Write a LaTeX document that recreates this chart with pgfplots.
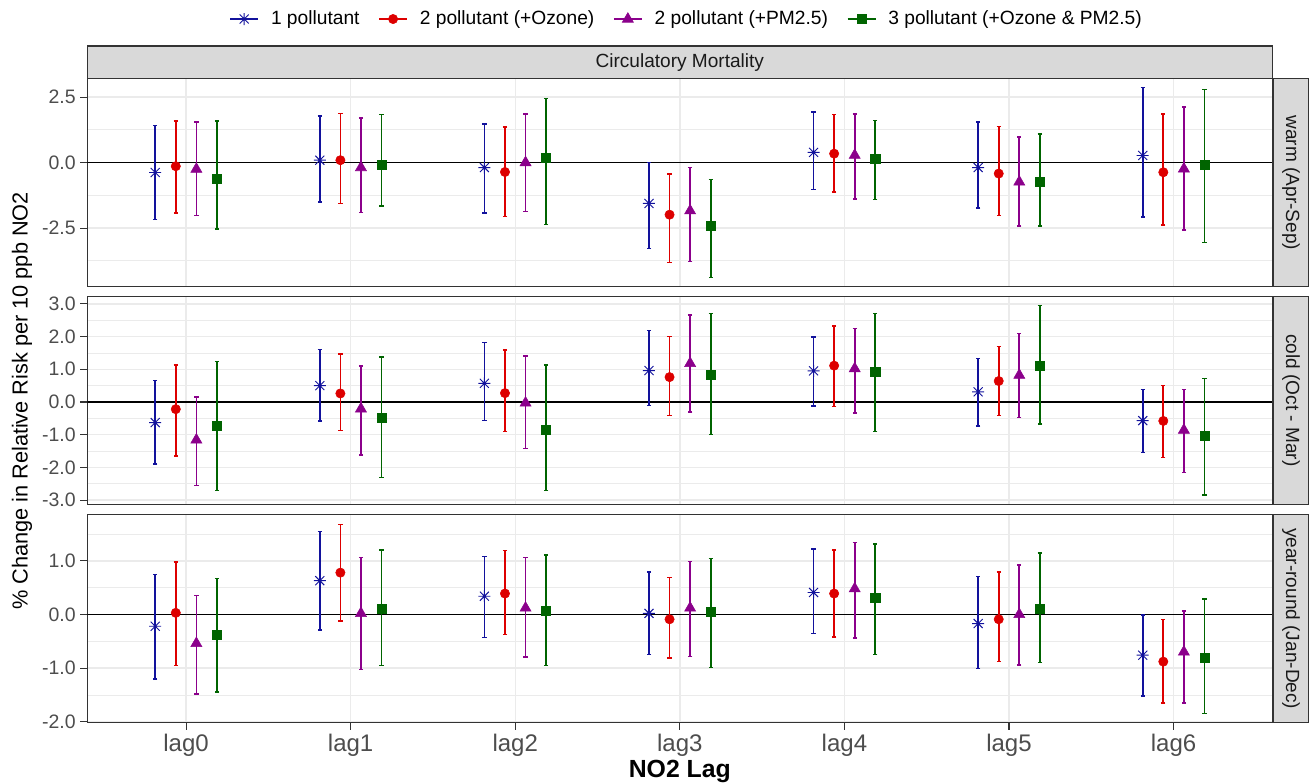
\documentclass[border=0pt]{standalone}
\usepackage{pgfplots}
\pgfplotsset{compat=1.18}
\usepackage{pgfplotstable}
\usepackage{fontspec}
\setmainfont{Liberation Sans}

\definecolor{cblue}{HTML}{12129C}
\definecolor{cred}{HTML}{DD0000}
\definecolor{cpurple}{HTML}{8B008B}
\definecolor{cgreen}{HTML}{006400}
\definecolor{grey92}{HTML}{EBEBEB}
\definecolor{grey85}{HTML}{D9D9D9}
\definecolor{grey20}{HTML}{333333}
\definecolor{grey30}{HTML}{4D4D4D}
\definecolor{grey10}{HTML}{1A1A1A}

\pgfdeclareplotmark{ast8}{%
  \pgfpathmoveto{\pgfqpoint{-\pgfplotmarksize}{0pt}}%
  \pgfpathlineto{\pgfqpoint{\pgfplotmarksize}{0pt}}%
  \pgfpathmoveto{\pgfqpoint{0pt}{-\pgfplotmarksize}}%
  \pgfpathlineto{\pgfqpoint{0pt}{\pgfplotmarksize}}%
  \pgfpathmoveto{\pgfqpoint{-0.75\pgfplotmarksize}{-0.75\pgfplotmarksize}}%
  \pgfpathlineto{\pgfqpoint{0.75\pgfplotmarksize}{0.75\pgfplotmarksize}}%
  \pgfpathmoveto{\pgfqpoint{-0.75\pgfplotmarksize}{0.75\pgfplotmarksize}}%
  \pgfpathlineto{\pgfqpoint{0.75\pgfplotmarksize}{-0.75\pgfplotmarksize}}%
  \pgfusepathqstroke
}

% lag, estimate, lower, upper for: b = 1 pollutant, r = +Ozone, p = +PM2.5, g = +Ozone & PM2.5
\pgfplotstableread{
lag b bl bh r rl rh p pl ph g gl gh
0 -0.38 -2.17 1.42 -0.14 -1.92 1.59 -0.25 -2.02 1.55 -0.61 -2.53 1.59
1 0.09 -1.51 1.77 0.09 -1.56 1.88 -0.19 -1.91 1.70 -0.10 -1.66 1.84
2 -0.19 -1.92 1.47 -0.36 -2.05 1.36 0.00 -1.86 1.86 0.17 -2.36 2.44
3 -1.56 -3.28 0.00 -1.99 -3.82 -0.43 -1.84 -3.77 -0.19 -2.43 -4.38 -0.64
4 0.39 -1.02 1.93 0.34 -1.13 1.84 0.28 -1.39 1.86 0.15 -1.42 1.60
5 -0.19 -1.73 1.55 -0.42 -2.03 1.37 -0.74 -2.43 0.98 -0.72 -2.43 1.09
6 0.27 -2.08 2.86 -0.37 -2.39 1.86 -0.24 -2.57 2.12 -0.09 -3.06 2.78
}\warm
\pgfplotstableread{
lag b bl bh r rl rh p pl ph g gl gh
0 -0.63 -1.89 0.65 -0.22 -1.65 1.13 -1.16 -2.56 0.15 -0.72 -2.70 1.23
1 0.50 -0.58 1.61 0.26 -0.87 1.46 -0.21 -1.62 1.10 -0.47 -2.31 1.38
2 0.57 -0.57 1.82 0.27 -0.90 1.59 -0.03 -1.43 1.40 -0.86 -2.71 1.13
3 0.96 -0.10 2.18 0.76 -0.42 2.00 1.18 -0.31 2.66 0.84 -0.99 2.71
4 0.95 -0.12 1.99 1.11 -0.14 2.32 1.02 -0.34 2.24 0.91 -0.90 2.70
5 0.31 -0.74 1.33 0.64 -0.42 1.70 0.82 -0.48 2.10 1.11 -0.67 2.95
6 -0.57 -1.55 0.38 -0.58 -1.69 0.50 -0.86 -2.16 0.38 -1.03 -2.85 0.72
}\cold
\pgfplotstableread{
lag b bl bh r rl rh p pl ph g gl gh
0 -0.22 -1.20 0.75 0.03 -0.95 0.98 -0.54 -1.48 0.35 -0.38 -1.45 0.67
1 0.63 -0.29 1.55 0.78 -0.12 1.68 0.02 -1.03 1.06 0.11 -0.95 1.20
2 0.34 -0.43 1.08 0.39 -0.37 1.19 0.12 -0.79 1.06 0.06 -0.95 1.11
3 0.02 -0.75 0.79 -0.09 -0.81 0.69 0.12 -0.78 0.99 0.05 -0.99 1.04
4 0.41 -0.36 1.22 0.39 -0.42 1.20 0.48 -0.44 1.34 0.31 -0.75 1.31
5 -0.17 -1.01 0.71 -0.09 -0.88 0.79 0.00 -0.94 0.92 0.11 -0.90 1.15
6 -0.76 -1.52 -0.01 -0.88 -1.65 -0.09 -0.70 -1.65 0.06 -0.80 -1.85 0.29
}\yearround

\pgfplotsset{
  panel/.style={
    scale only axis, width=888.75pt, height=156pt, anchor=south west,
    xmin=-0.6, xmax=6.6,
    xtick={0,1,2,3,4,5,6},
    grid=both,
    major grid style={color=grey92, line width=1.0pt},
    minor grid style={color=grey92, line width=0.5pt},
    axis line style={color=grey20, line width=0.8pt},
    every tick/.style={color=grey20, line width=0.8pt},
    tick align=outside, major tick length=5.25pt, minor tick length=0pt,
    xtick pos=bottom, ytick pos=left,
    yticklabel style={font=\fontsize{14.6}{16}\selectfont, text=grey30},
    xticklabel style={font=\fontsize{18}{20}\selectfont, text=grey30},
    /pgf/number format/.cd, fixed, fixed zerofill, precision=1, assume math mode=true,
    /pgfplots/.cd,
  },
  eb/.style={/pgfplots/error bars/.cd, y dir=both, y explicit,
    error bar style={line width=1.25pt, solid},
    error mark options={rotate=90, line width=1.1pt, mark size=1.6pt, solid},
    /pgfplots/.cd},
  mylegend/.style={/pgfplots/legend image code/.code={%
    \draw[##1, mark=none, line width=1.2pt] (0pt,0pt) -- (21pt,0pt);
    \draw[##1] plot coordinates {(10.5pt,0pt)};}},
  sblue/.style={color=cblue, only marks, mark=ast8, mark size=4.5pt, mark options={line width=0.7pt}, eb, mylegend},
  sred/.style={color=cred, only marks, mark=*, mark size=3.5pt, eb, mylegend},
  spurple/.style={color=cpurple, only marks, mark=triangle*, mark size=4.8pt, eb, mylegend},
  sgreen/.style={color=cgreen, only marks, mark=square*, mark size=3.4pt, eb, mylegend},
}

\newcommand{\fourplots}[1]{%
  \addplot[black, line width=1.4pt, forget plot] coordinates {(-0.6,0) (6.6,0)};
  \addplot[sblue] table[x expr=\thisrow{lag}-0.1875, y=b, y error plus expr=\thisrow{bh}-\thisrow{b}, y error minus expr=\thisrow{b}-\thisrow{bl}] {#1};
  \addplot[sred] table[x expr=\thisrow{lag}-0.0625, y=r, y error plus expr=\thisrow{rh}-\thisrow{r}, y error minus expr=\thisrow{r}-\thisrow{rl}] {#1};
  \addplot[spurple] table[x expr=\thisrow{lag}+0.0625, y=p, y error plus expr=\thisrow{ph}-\thisrow{p}, y error minus expr=\thisrow{p}-\thisrow{pl}] {#1};
  \addplot[sgreen] table[x expr=\thisrow{lag}+0.1875, y=g, y error plus expr=\thisrow{gh}-\thisrow{g}, y error minus expr=\thisrow{g}-\thisrow{gl}] {#1};
}

\begin{document}
\begin{tikzpicture}
\path[use as bounding box] (0pt,0pt) rectangle (981.75pt,587.25pt);

% top strip
\draw[fill=grey85, draw=grey20, line width=0.8pt] (65.5pt,528.3pt) rectangle (954.2pt,552.75pt);
\node[font=\fontsize{14.3}{16}\selectfont, text=grey10] at (509.85pt,540.5pt) {Circulatory Mortality};

% right strips
\draw[fill=grey85, draw=grey20, line width=0.8pt] (955.4pt,372.2pt) rectangle (981.2pt,528.2pt);
\draw[fill=grey85, draw=grey20, line width=0.8pt] (955.4pt,209.0pt) rectangle (981.2pt,365.0pt);
\draw[fill=grey85, draw=grey20, line width=0.8pt] (955.4pt,45.2pt) rectangle (981.2pt,201.2pt);
\node[rotate=-90, font=\fontsize{14.3}{16}\selectfont, text=grey10] at (968.3pt,450.2pt) {warm (Apr-Sep)};
\node[rotate=-90, font=\fontsize{14.3}{16}\selectfont, text=grey10] at (968.3pt,287.0pt) {cold (Oct - Mar)};
\node[rotate=-90, font=\fontsize{14.3}{16}\selectfont, text=grey10] at (968.3pt,123.2pt) {year-round (Jan-Dec)};

% panel 1: warm
\begin{axis}[panel, at={(65.5pt,372.2pt)},
  ymin=-4.74, ymax=3.2,
  ytick={-2.5,0,2.5}, minor ytick={-3.75,-1.25,1.25},
  xmajorticks=false,
  legend columns=4,
  legend style={draw=none, fill=none, at={(0.506,1.287)}, anchor=center,
    font=\fontsize{14.4}{16}\selectfont,
    /tikz/every odd column/.append style={column sep=7pt},
    /tikz/every even column/.append style={column sep=12pt}},
  legend cell align=left,
]
\fourplots{\warm}
\legend{1 pollutant, 2 pollutant (+Ozone), 2 pollutant (+PM2.5), 3 pollutant (+Ozone \& PM2.5)}
\end{axis}

% panel 2: cold
\begin{axis}[panel, at={(65.5pt,209.0pt)},
  ymin=-3.13, ymax=3.23,
  ytick={-3,-2,-1,0,1,2,3}, minor ytick={-2.5,-1.5,-0.5,0.5,1.5,2.5},
  xmajorticks=false,
]
\fourplots{\cold}
\end{axis}

% panel 3: year-round
\begin{axis}[panel, at={(65.5pt,45.2pt)},
  ymin=-2.02, ymax=1.86,
  ytick={-2,-1,0,1}, minor ytick={-1.5,-0.5,0.5,1.5},
  xticklabels={lag0,lag1,lag2,lag3,lag4,lag5,lag6},
]
\fourplots{\yearround}
\end{axis}

% axis titles
\node[rotate=90, font=\fontsize{16.3}{18}\selectfont] at (16.5pt,286.5pt) {\% Change in Relative Risk per 10 ppb NO2};
\node[font=\bfseries\fontsize{18.6}{20}\selectfont] at (509.85pt,8.5pt) {NO2 Lag};
\end{tikzpicture}
\end{document}
